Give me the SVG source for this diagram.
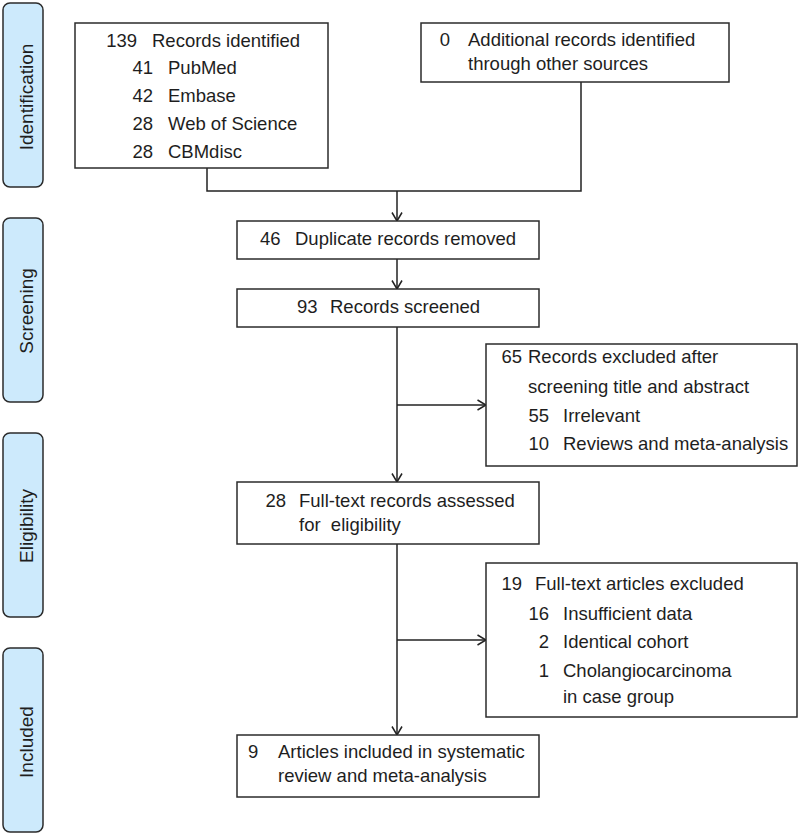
<svg xmlns="http://www.w3.org/2000/svg" width="800" height="836" viewBox="0 0 800 836">
<style>
.box{fill:#fff;stroke:#2b2b2b;stroke-width:1.5}
.side{fill:#cdeafc;stroke:#2b2b2b;stroke-width:1.5}
text{font-family:"Liberation Sans",Arial,sans-serif;font-size:18.5px;fill:#1e1e1e}
.lab{font-size:19px;text-anchor:middle}
.n{text-anchor:end}
.conn{fill:none;stroke:#222;stroke-width:1.5}
</style>
<defs>
<marker id="arr" viewBox="0 0 10 12" refX="9.5" refY="6" markerWidth="10" markerHeight="12" markerUnits="userSpaceOnUse" orient="auto">
<path d="M1,1 L9.5,6 L1,11" fill="none" stroke="#222" stroke-width="1.5"/>
</marker>
</defs>
<g id="phase-identification"><rect class="side" x="3" y="3" width="40" height="184" rx="7"/><text class="lab" transform="translate(33,97) rotate(-90)">Identification</text></g>
<g id="phase-screening"><rect class="side" x="3" y="218" width="40" height="184" rx="7"/><text class="lab" transform="translate(33,311) rotate(-90)">Screening</text></g>
<g id="phase-eligibility"><rect class="side" x="3" y="433" width="40" height="184" rx="7"/><text class="lab" transform="translate(33,526) rotate(-90)">Eligibility</text></g>
<g id="phase-included"><rect class="side" x="3" y="648" width="40" height="184" rx="7"/><text class="lab" transform="translate(33,742) rotate(-90)">Included</text></g>

<g id="connectors">
<path class="conn" d="M207,168 V191 H581 V82"/>
<path class="conn" d="M397,191 V221" marker-end="url(#arr)"/>
<path class="conn" d="M397,259 V289" marker-end="url(#arr)"/>
<path class="conn" d="M397,327 V482" marker-end="url(#arr)"/>
<path class="conn" d="M397,405 H486" marker-end="url(#arr)"/>
<path class="conn" d="M397,544 V735" marker-end="url(#arr)"/>
<path class="conn" d="M397,640 H486" marker-end="url(#arr)"/>
</g>

<g id="records-identified"><rect class="box" x="75" y="23" width="253" height="145"/>
<text class="n" x="137" y="47">139</text><text x="152" y="47">Records identified</text>
<text class="n" x="153" y="74">41</text><text x="168" y="74">PubMed</text>
<text class="n" x="153" y="102">42</text><text x="168" y="102">Embase</text>
<text class="n" x="153" y="130">28</text><text x="168" y="130">Web of Science</text>
<text class="n" x="153" y="158">28</text><text x="168" y="158">CBMdisc</text>
</g>
<g id="additional-records"><rect class="box" x="421" y="23" width="308" height="59"/>
<text class="n" x="450" y="46">0</text><text x="468" y="46">Additional records identified</text>
<text x="468" y="70">through other sources</text>
</g>
<g id="duplicates"><rect class="box" x="237" y="221" width="302" height="38"/>
<text x="260" y="245">46</text><text x="295" y="245">Duplicate records removed</text>
</g>
<g id="screened"><rect class="box" x="237" y="289" width="302" height="38"/>
<text x="297" y="313">93</text><text x="330" y="313">Records screened</text>
</g>
<g id="excluded-screening"><rect class="box" x="486" y="344" width="311" height="122"/>
<text class="n" x="522" y="363">65</text><text x="528" y="363">Records excluded after</text>
<text x="528" y="393">screening title and abstract</text>
<text class="n" x="549" y="422">55</text><text x="563" y="422">Irrelevant</text>
<text class="n" x="549" y="450">10</text><text x="563" y="450">Reviews and meta-analysis</text>
</g>
<g id="fulltext-assessed"><rect class="box" x="237" y="482" width="302" height="62"/>
<text class="n" x="286" y="507">28</text><text x="299" y="507">Full-text records assessed</text>
<text x="299" y="531" xml:space="preserve">for  eligibility</text>
</g>
<g id="excluded-fulltext"><rect class="box" x="486" y="563" width="311" height="154"/>
<text class="n" x="522" y="590">19</text><text x="535" y="590">Full-text articles excluded</text>
<text class="n" x="549" y="620">16</text><text x="563" y="620">Insufficient data</text>
<text class="n" x="549" y="648">2</text><text x="563" y="648">Identical cohort</text>
<text class="n" x="549" y="677">1</text><text x="563" y="677">Cholangiocarcinoma</text>
<text x="563" y="703">in case group</text>
</g>
<g id="included"><rect class="box" x="237" y="735" width="302" height="62"/>
<text x="248" y="758">9</text><text x="278" y="758">Articles included in systematic</text>
<text x="278" y="782">review and meta-analysis</text>
</g>
</svg>
